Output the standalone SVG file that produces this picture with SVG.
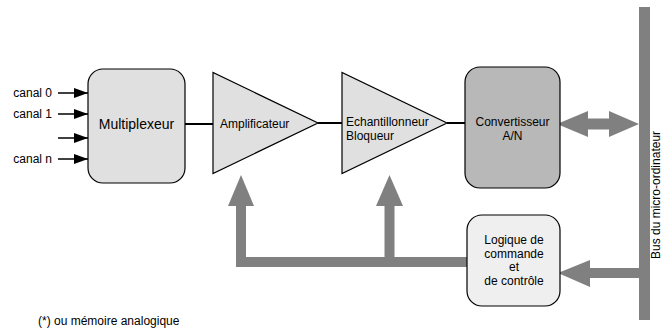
<svg xmlns="http://www.w3.org/2000/svg" width="662" height="329" viewBox="0 0 662 329">
<style>
text{font-family:"Liberation Sans",Arial,sans-serif;font-size:12px;fill:#000}
.blk{fill:#e0e0e0;stroke:#000;stroke-width:1.2}
.wire{stroke:#000;stroke-width:2;fill:none}
.in{stroke:#000;stroke-width:1.5;fill:none;marker-end:url(#ah)}
.g{fill:#808080}
</style>
<defs>
<marker id="ah" markerWidth="14" markerHeight="10" refX="14" refY="5" orient="auto" markerUnits="userSpaceOnUse">
<path d="M0,0 L14,5 L0,10 z" fill="#000"/>
</marker>
</defs>
<g id="connectors">
<line class="in" x1="58" y1="93" x2="88" y2="93"/>
<line class="in" x1="58" y1="114" x2="88" y2="114"/>
<line class="in" x1="58" y1="138" x2="88" y2="138"/>
<line class="in" x1="58" y1="159" x2="88" y2="159"/>
<line class="wire" x1="185" y1="124" x2="213" y2="124"/>
<line class="wire" x1="318" y1="123" x2="342" y2="123"/>
<line class="wire" x1="447" y1="123" x2="465" y2="123"/>
<path class="g" d="M557,124 L588,111 L588,118.5 L609,118.5 L609,111 L639,124 L609,137 L609,129.5 L588,129.5 L588,137 Z"/>
<path class="g" d="M558,273 L590,260 L590,268 L639,268 L639,278 L590,278 L590,287 Z"/>
<path class="g" d="M467,257 L394.5,257 L394.5,206 L403,206 L389.5,175 L376,206 L384.5,206 L384.5,257 L246,257 L246,206 L254,206 L241,175 L228,206 L236,206 L236,267 L467,267 Z"/>
</g>
<g id="bus">
<rect class="g" x="639" y="7" width="11" height="313"/>
<text transform="translate(660,259) rotate(-90)">Bus du micro-ordinateur</text>
</g>
<g id="inputs">
<text x="52" y="97" text-anchor="end">canal 0</text>
<text x="52" y="118" text-anchor="end">canal 1</text>
<text x="52" y="163" text-anchor="end">canal n</text>
</g>
<g id="multiplexeur">
<rect class="blk" x="88" y="69" width="97" height="114" rx="15"/>
<text x="136.5" y="128.5" text-anchor="middle" style="font-size:14px">Multiplexeur</text>
</g>
<g id="amplificateur">
<path class="blk" d="M213,72.5 L213,173.5 L318,123 Z"/>
<text x="220" y="128">Amplificateur</text>
</g>
<g id="echantillonneur">
<path class="blk" d="M342,72.5 L342,173.5 L447,123 Z"/>
<text x="346" y="126">Echantillonneur</text>
<text x="346" y="140">Bloqueur</text>
</g>
<g id="convertisseur">
<rect class="blk" x="465" y="67" width="95" height="121" rx="15" style="fill:#b8b8b8"/>
<text x="512.5" y="126" text-anchor="middle">Convertisseur</text>
<text x="512.5" y="140" text-anchor="middle">A/N</text>
</g>
<g id="logique">
<rect class="blk" x="467" y="215" width="93" height="91" rx="15" style="fill:#efefef"/>
<text x="514" y="244" text-anchor="middle">Logique de</text>
<text x="514" y="258" text-anchor="middle">commande</text>
<text x="514" y="271" text-anchor="middle">et</text>
<text x="514" y="285" text-anchor="middle">de contrôle</text>
</g>
<g id="note">
<text x="38" y="325">(*) ou mémoire analogique</text>
</g>
</svg>
